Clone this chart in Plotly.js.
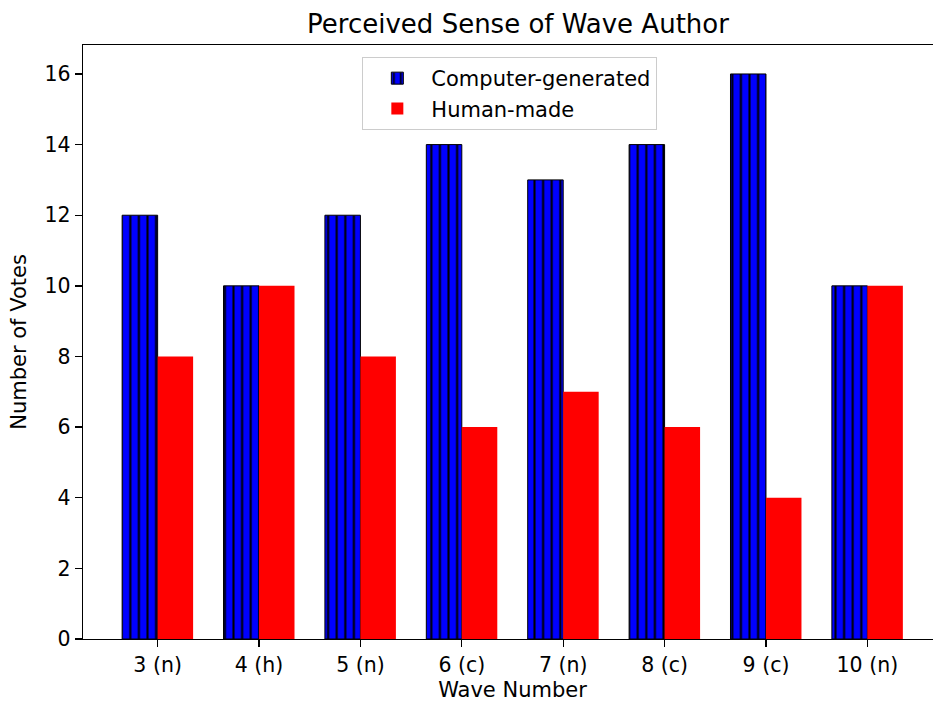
<!DOCTYPE html>
<html>
<head>
<meta charset="utf-8">
<script src="https://cdn.plot.ly/plotly-3.0.1.min.js"></script>
<style>
  html, body { margin: 0; padding: 0; overflow: hidden; background: #fff; }
  #chart { width: 960px; height: 705px; }
</style>
</head>
<body>
<div id="chart"></div>
<script>
// Votes per wave: how listeners judged who authored each wave
const waves = ['3 (n)', '4 (h)', '5 (n)', '6 (c)', '7 (n)', '8 (c)', '9 (c)', '10 (n)'];
const computerVotes = [12, 10, 12, 14, 13, 14, 16, 10];
const humanVotes = [8, 10, 8, 6, 7, 6, 4, 10];
const yTicks = [0, 2, 4, 6, 8, 10, 12, 14, 16];

const FONT = 'DejaVu Sans, sans-serif';
const BAR_W = 0.35;

const traces = [
  {
    type: 'bar',
    name: 'Computer-generated',
    x: waves,
    y: computerVotes,
    width: BAR_W,
    offset: -BAR_W,
    marker: {
      color: '#0000ff',
      line: { color: '#000000', width: 1 },
      pattern: { shape: '|', fgcolor: '#000000', bgcolor: '#0000ff', size: 8.6, solidity: 0.24, fillmode: 'replace' }
    },
    hoverinfo: 'x+y'
  },
  {
    type: 'bar',
    name: 'Human-made',
    x: waves,
    y: humanVotes,
    width: BAR_W,
    offset: 0,
    marker: { color: '#ff0000', line: { width: 0 } },
    hoverinfo: 'x+y'
  }
];

const layout = {
  width: 960,
  height: 705,
  margin: { l: 82.5, r: 18, t: 45, b: 66 },
  paper_bgcolor: '#ffffff',
  plot_bgcolor: '#ffffff',
  font: { family: FONT, size: 20, color: '#000000' },
  showlegend: true,
  barmode: 'overlay',
  title: {
    text: 'Perceived Sense of Wave Author',
    font: { family: FONT, size: 26, color: '#000000' },
    x: 518 / 960, xref: 'container', xanchor: 'center',
    y: 1 - 24 / 705, yref: 'container', yanchor: 'middle'
  },
  xaxis: {
    type: 'category',
    range: [-0.736, 7.736],
    showline: true, linecolor: '#000000', linewidth: 1.3, mirror: true,
    ticks: 'outside', ticklen: 7, tickwidth: 1.3, tickcolor: '#000000',
    showgrid: false, zeroline: false,
    tickfont: { family: FONT, size: 20.5 },
    title: { text: 'Wave Number', font: { family: FONT, size: 21 }, standoff: 6 }
  },
  yaxis: {
    range: [0, 16.82],
    tickmode: 'array', tickvals: yTicks, ticktext: yTicks.map(String),
    showline: true, linecolor: '#000000', linewidth: 1.3, mirror: true,
    ticks: 'outside', ticklen: 7, tickwidth: 1.3, tickcolor: '#000000',
    showgrid: false, zeroline: false,
    tickfont: { family: FONT, size: 20.5 },
    title: { text: 'Number of Votes', font: { family: FONT, size: 21 }, standoff: 12 }
  },
  legend: {
    x: (362 - 82.5) / 859.5, xanchor: 'left',
    y: 1 - (57 - 45) / 594, yanchor: 'top',
    bgcolor: 'rgba(255,255,255,0.8)',
    bordercolor: '#cccccc', borderwidth: 1,
    itemwidth: 58,
    font: { family: FONT, size: 21 }
  }
};

Plotly.newPlot('chart', traces, layout, { displayModeBar: false, staticPlot: true });
</script>
</body>
</html>
